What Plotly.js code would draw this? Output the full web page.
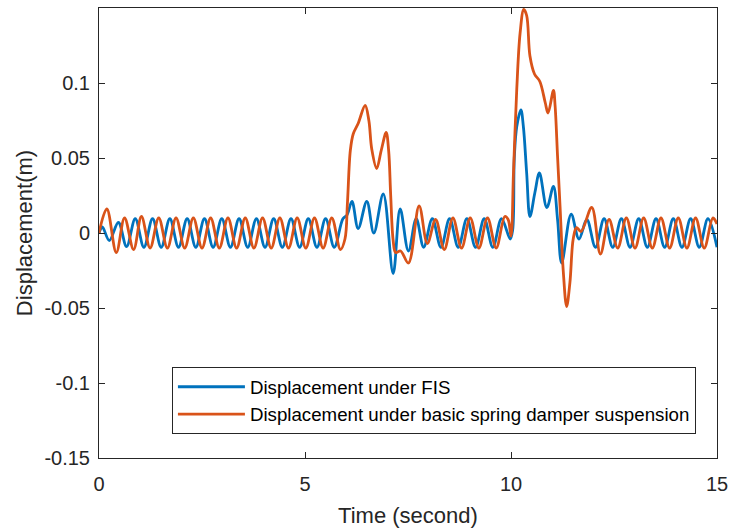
<!DOCTYPE html>
<html>
<head>
<meta charset="utf-8">
<script src="https://cdn.plot.ly/plotly-3.0.1.min.js"></script>
<style>html,body{margin:0;padding:0;background:#fff;}#chart{width:733px;height:529px;}</style>
</head>
<body>
<div id="chart"></div>
<script>
// Displacement under FIS (blue) - extremes
const timeFIS = [0, 0.08, 0.25, 0.47, 0.67, 0.88, 1.09, 1.30, 1.51, 1.72, 1.93, 2.14, 2.35, 2.56, 2.77, 2.98, 3.19, 3.40, 3.61, 3.82, 4.03, 4.24, 4.45, 4.66, 4.87, 5.08, 5.29, 5.50, 5.71, 5.92, 6.02, 6.14, 6.29, 6.50, 6.67, 6.90, 7.14, 7.31, 7.51, 7.70, 7.88, 8.09, 8.30, 8.51, 8.72, 8.93, 9.14, 9.35, 9.56, 9.77, 9.98, 10.04, 10.08, 10.14, 10.24, 10.30, 10.38, 10.46, 10.58, 10.69, 10.87, 11.03, 11.13, 11.23, 11.46, 11.65, 11.84, 12.05, 12.26, 12.47, 12.68, 12.89, 13.10, 13.31, 13.52, 13.73, 13.94, 14.15, 14.36, 14.57, 14.78, 15.0];
const dispFIS = [0, 0.004, -0.005, 0.007, -0.009, 0.0095, -0.0095, 0.0095, -0.0095, 0.0095, -0.0095, 0.0095, -0.0095, 0.0095, -0.0095, 0.0095, -0.0095, 0.0095, -0.0095, 0.0095, -0.0095, 0.0095, -0.0095, 0.0095, -0.0095, 0.0095, -0.0095, 0.0095, -0.0095, 0.0095, 0.012, 0.021, 0.003, 0.021, 0.000, 0.026, -0.027, 0.016, -0.012, 0.0095, -0.0095, 0.0095, -0.0095, 0.0095, -0.0095, 0.0095, -0.0095, 0.0095, -0.0095, 0.0095, -0.004, 0.002, 0.050, 0.071, 0.082, 0.071, 0.040, 0.011, 0.027, 0.040, 0.017, 0.031, 0.009, -0.020, 0.0125, -0.004, 0.009, -0.0095, 0.0095, -0.0095, 0.0095, -0.0095, 0.0095, -0.0095, 0.0095, -0.0095, 0.0095, -0.0095, 0.0095, -0.0095, 0.0095, -0.0095];

// Displacement under basic spring damper suspension (orange)
const timeBasic = [0, 0.19, 0.42, 0.62, 0.84, 1.03, 1.24, 1.45, 1.66, 1.87, 2.08, 2.29, 2.50, 2.71, 2.92, 3.13, 3.34, 3.55, 3.76, 3.97, 4.18, 4.39, 4.60, 4.81, 5.02, 5.23, 5.44, 5.65, 5.86, 5.97, 6.03, 6.10, 6.17, 6.29, 6.46, 6.55, 6.62, 6.74, 6.85, 6.97, 7.03, 7.08, 7.14, 7.20, 7.32, 7.51, 7.77, 7.97, 8.17, 8.38, 8.59, 8.80, 9.01, 9.22, 9.43, 9.64, 9.85, 9.93, 10.00, 10.06, 10.14, 10.22, 10.31, 10.38, 10.46, 10.57, 10.70, 10.83, 10.90, 11.03, 11.07, 11.13, 11.19, 11.27, 11.35, 11.43, 11.51, 11.59, 11.70, 11.96, 12.17, 12.38, 12.59, 12.80, 13.01, 13.22, 13.43, 13.64, 13.85, 14.06, 14.27, 14.48, 14.69, 14.90, 15.0];
const dispBasic = [0, 0.016, -0.013, 0.010, -0.011, 0.011, -0.010, 0.010, -0.010, 0.010, -0.010, 0.010, -0.010, 0.010, -0.010, 0.010, -0.010, 0.010, -0.010, 0.010, -0.010, 0.010, -0.010, 0.010, -0.010, 0.010, -0.010, 0.010, -0.011, -0.004, 0.020, 0.055, 0.066, 0.073, 0.085, 0.075, 0.056, 0.043, 0.055, 0.067, 0.055, 0.025, -0.005, -0.013, -0.012, -0.020, 0.018, -0.007, 0.009, -0.011, 0.010, -0.010, 0.010, -0.010, 0.010, -0.010, 0.011, 0.009, -0.002, 0.040, 0.096, 0.133, 0.149, 0.145, 0.118, 0.106, 0.101, 0.087, 0.080, 0.095, 0.085, 0.051, 0.018, -0.026, -0.049, -0.033, -0.004, 0.0036, 0.001, 0.017, -0.014, 0.009, -0.010, 0.010, -0.010, 0.010, -0.010, 0.010, -0.010, 0.010, -0.010, 0.010, -0.010, 0.010, 0.006];

const seriesNames = ['Displacement under FIS', 'Displacement under basic spring damper suspension'];
const xTicks = [0, 5, 10, 15];
const yTicks = [-0.15, -0.1, -0.05, 0, 0.05, 0.1];
const yTickText = ['-0.15', '-0.1', '-0.05', '0', '0.05', '0.1'];

const font = 'Liberation Sans, Arial, Helvetica, sans-serif';
const ink = '#262626';

const traces = [
  {x: timeFIS, y: dispFIS, name: seriesNames[0], type: 'scatter', mode: 'lines',
   line: {color: '#0072BD', width: 2.8, shape: 'spline', smoothing: 1}},
  {x: timeBasic, y: dispBasic, name: seriesNames[1], type: 'scatter', mode: 'lines',
   line: {color: '#D95319', width: 2.8, shape: 'spline', smoothing: 1}}
];

const axisCommon = {
  showline: true, linecolor: ink, linewidth: 1, mirror: 'ticks',
  ticks: 'inside', ticklen: 6, tickcolor: ink, tickwidth: 1,
  showgrid: false, zeroline: false,
  tickfont: {family: font, size: 20, color: ink}
};

const layout = {
  width: 733, height: 529,
  margin: {l: 99, r: 16, t: 8, b: 71},
  paper_bgcolor: '#fff', plot_bgcolor: '#fff',
  showlegend: true,
  xaxis: Object.assign({}, axisCommon, {
    range: [0, 15], tickvals: xTicks, ticklabelstandoff: 8,
    title: {text: 'Time (second)', font: {family: font, size: 22, color: ink}, standoff: 13}
  }),
  yaxis: Object.assign({}, axisCommon, {
    range: [-0.15, 0.15], tickvals: yTicks, ticktext: yTickText, ticklabelstandoff: 4,
    title: {text: 'Displacement(m)', font: {family: font, size: 22, color: ink}, standoff: 5}
  }),
  legend: {
    x: 0.118, y: 0.202, xanchor: 'left', yanchor: 'top',
    bgcolor: '#fff', bordercolor: ink, borderwidth: 1,
    font: {family: font, size: 18.7, color: '#000'},
    itemwidth: 67, tracegroupgap: 0
  }
};

Plotly.newPlot('chart', traces, layout, {displayModeBar: false, staticPlot: true});
</script>
</body>
</html>
